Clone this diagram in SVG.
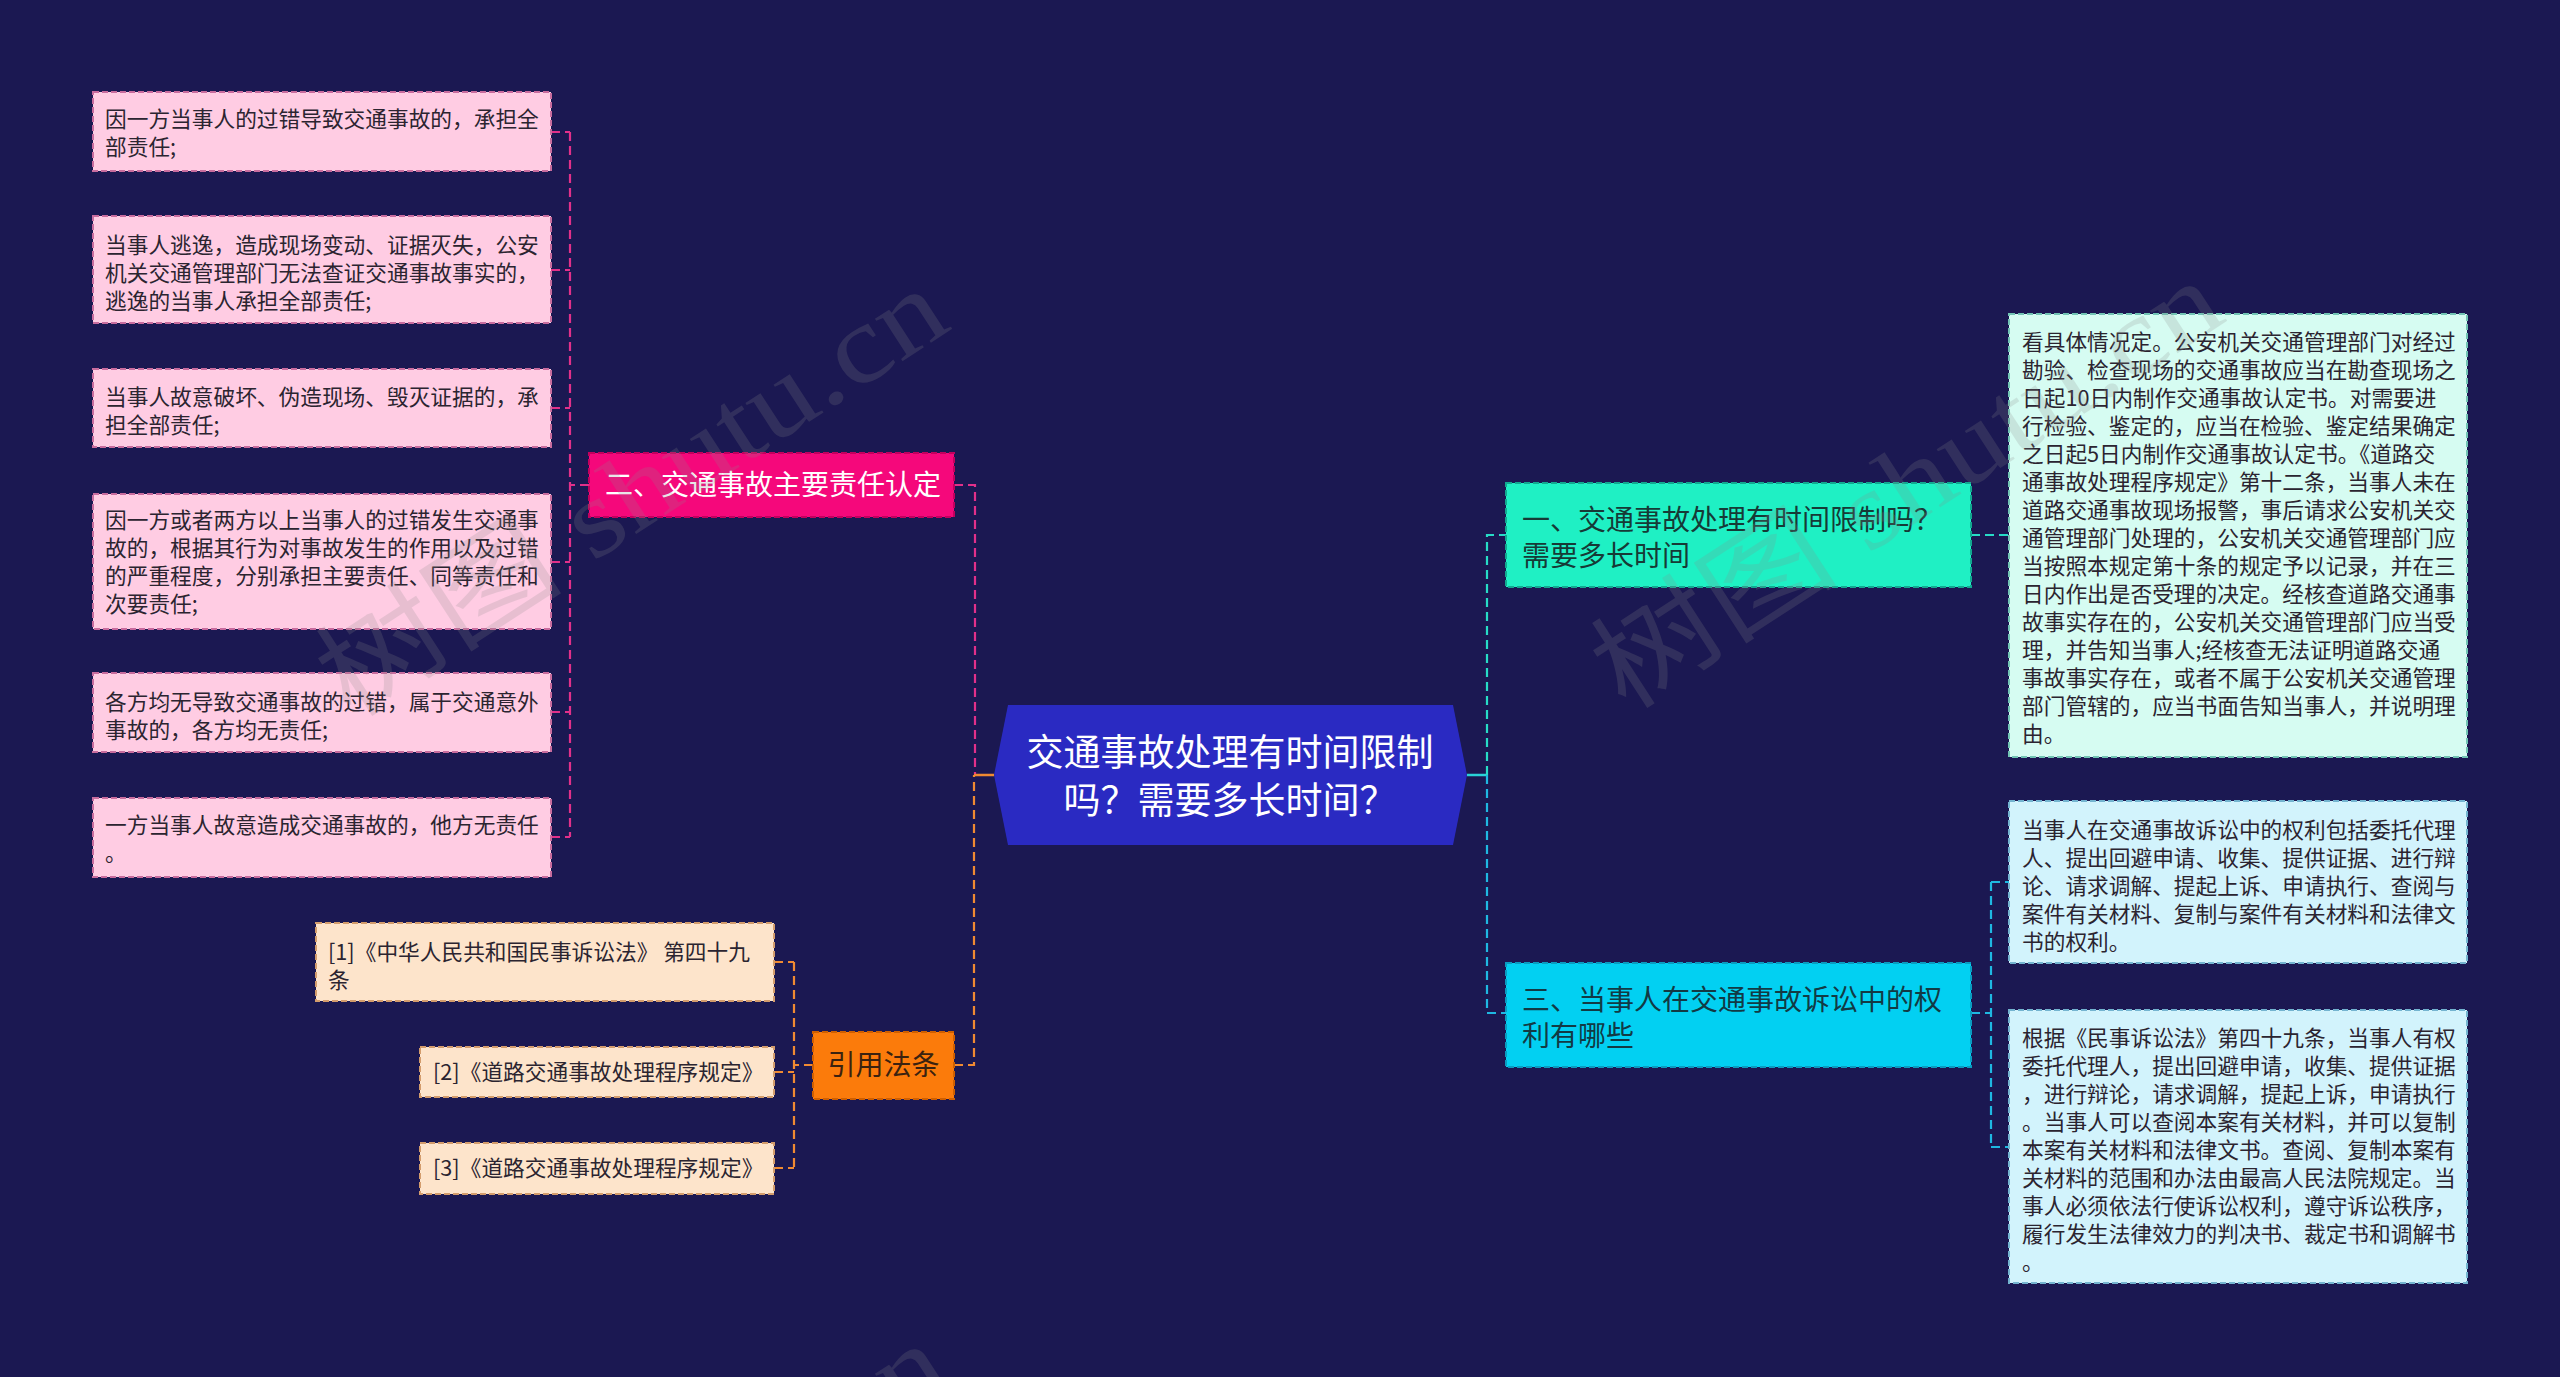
<svg xmlns="http://www.w3.org/2000/svg" width="2560" height="1377" viewBox="0 0 2560 1377">
<style>
text{font-family:"Noto Sans CJK SC","Liberation Sans",sans-serif;}
.leaf{font-size:21.7px;fill:#2b2430;}
.br{font-size:28px;}
.pinkleaf{fill:#ffcce3;stroke:#c86c9e;stroke-width:2;stroke-dasharray:6 3;}
.peach{fill:#fde4cb;stroke:#d39c6c;stroke-width:2;stroke-dasharray:6 3;}
.tealleaf{fill:#d6fcf2;stroke:#72c4b4;stroke-width:2;stroke-dasharray:6 3;}
.cyanleaf{fill:#d2f3fc;stroke:#74b4d0;stroke-width:2;stroke-dasharray:6 3;}
.c{fill:none;stroke-width:2.2;stroke-dasharray:9 5;}
.wm{font-family:"Liberation Serif","Noto Sans CJK SC",serif;font-size:110px;fill:#8a8a8a;opacity:0.2;}
</style>
<rect x="0" y="0" width="2560" height="1377" fill="#1b1852"/>

<g id="connectors">
  <path class="c" stroke="#e2308a" d="M954,485 H975 V775"/>
  <path class="c" stroke="#e2308a" d="M589,485 H570"/>
  <path class="c" stroke="#e2308a" d="M570,132 V837"/>
  <path class="c" stroke="#e2308a" d="M551,132 H570 M551,270 H570 M551,408 H570 M551,562 H570 M551,712 H570 M551,837 H570"/>
  <path class="c" stroke="#f08a32" d="M954,1065 H974 V775"/>
  <path fill="none" stroke="#f08a32" stroke-width="2.5" d="M974,775 H994"/>
  <path class="c" stroke="#f08a32" d="M813,1065 H794 M794,962 V1168 M774,962 H794 M774,1072 H794 M774,1168 H794"/>
  <path fill="none" stroke="#29d2d8" stroke-width="2.5" d="M1467,775 H1487"/>
  <path class="c" stroke="#27dcc6" d="M1487,775 V535 H1506"/>
  <path class="c" stroke="#1fb8e2" d="M1487,775 V1013 H1506"/>
  <path class="c" stroke="#27dcc6" d="M1971,535 H2009"/>
  <path class="c" stroke="#1fb8e2" d="M1971,1013 H1991 M1991,882 V1147 M1991,882 H2009 M1991,1147 H2009"/>
</g>

<g id="center">
  <polygon points="994,775 1008,705 1453,705 1467,775 1453,845 1008,845" fill="#2a2ac2"/>
  <text font-size="37" fill="#ffffff" text-anchor="middle"><tspan x="1230" y="766">交通事故处理有时间限制</tspan><tspan x="1230" y="814">吗？需要多长时间？</tspan></text>
</g>

<g id="branch2">
  <rect x="589" y="453" width="365" height="64" fill="#f5087b" stroke="#c2005e" stroke-width="2" stroke-dasharray="6 3"/>
  <text class="br" x="605" y="495" fill="#ffffff">二、交通事故主要责任认定</text>
</g>

<g id="leaf2-1">
  <rect class="pinkleaf" x="93" y="92" width="458" height="79"/>
  <text class="leaf" x="105" y="127">因一方当事人的过错导致交通事故的，承担全</text>
  <text class="leaf" x="105" y="155">部责任;</text>
</g>
<g id="leaf2-2">
  <rect class="pinkleaf" x="93" y="216" width="458" height="107"/>
  <text class="leaf" x="105" y="253">当事人逃逸，造成现场变动、证据灭失，公安</text>
  <text class="leaf" x="105" y="281">机关交通管理部门无法查证交通事故事实的，</text>
  <text class="leaf" x="105" y="309">逃逸的当事人承担全部责任;</text>
</g>
<g id="leaf2-3">
  <rect class="pinkleaf" x="93" y="369" width="458" height="78"/>
  <text class="leaf" x="105" y="405">当事人故意破坏、伪造现场、毁灭证据的，承</text>
  <text class="leaf" x="105" y="433">担全部责任;</text>
</g>
<g id="leaf2-4">
  <rect class="pinkleaf" x="93" y="494" width="458" height="135"/>
  <text class="leaf" x="105" y="528">因一方或者两方以上当事人的过错发生交通事</text>
  <text class="leaf" x="105" y="556">故的，根据其行为对事故发生的作用以及过错</text>
  <text class="leaf" x="105" y="584">的严重程度，分别承担主要责任、同等责任和</text>
  <text class="leaf" x="105" y="612">次要责任;</text>
</g>
<g id="leaf2-5">
  <rect class="pinkleaf" x="93" y="673" width="458" height="79"/>
  <text class="leaf" x="105" y="710">各方均无导致交通事故的过错，属于交通意外</text>
  <text class="leaf" x="105" y="738">事故的，各方均无责任;</text>
</g>
<g id="leaf2-6">
  <rect class="pinkleaf" x="93" y="798" width="458" height="79"/>
  <text class="leaf" x="105" y="833">一方当事人故意造成交通事故的，他方无责任</text>
  <text class="leaf" x="105" y="861">。</text>
</g>

<g id="branch-ref">
  <rect x="813" y="1032" width="141" height="67" fill="#fb7b0b" stroke="#cf5f00" stroke-width="2" stroke-dasharray="6 3"/>
  <text class="br" x="883.5" y="1075" fill="#3a2210" text-anchor="middle">引用法条</text>
</g>
<g id="ref-1">
  <rect class="peach" x="316" y="923" width="458" height="78"/>
  <text class="leaf" x="328" y="960">[1]《中华人民共和国民事诉讼法》 第四十九</text>
  <text class="leaf" x="328" y="988">条</text>
</g>
<g id="ref-2">
  <rect class="peach" x="420" y="1047" width="354" height="50"/>
  <text class="leaf" x="433" y="1080">[2]《道路交通事故处理程序规定》</text>
</g>
<g id="ref-3">
  <rect class="peach" x="420" y="1143" width="354" height="51"/>
  <text class="leaf" x="433" y="1176">[3]《道路交通事故处理程序规定》</text>
</g>

<g id="branch1">
  <rect x="1506" y="483" width="465" height="104" fill="#1ff0c4" stroke="#12a890" stroke-width="2" stroke-dasharray="6 3"/>
  <text class="br" x="1522" y="530" fill="#163a36">一、交通事故处理有时间限制吗？</text>
  <text class="br" x="1522" y="566" fill="#163a36">需要多长时间</text>
</g>
<g id="leaf1-1">
  <rect class="tealleaf" x="2009" y="314" width="458" height="443"/>
  <g class="leaf">
  <text x="2022" y="350">看具体情况定。公安机关交通管理部门对经过</text>
  <text x="2022" y="378">勘验、检查现场的交通事故应当在勘查现场之</text>
  <text x="2022" y="406">日起10日内制作交通事故认定书。对需要进</text>
  <text x="2022" y="434">行检验、鉴定的，应当在检验、鉴定结果确定</text>
  <text x="2022" y="462">之日起5日内制作交通事故认定书。《道路交</text>
  <text x="2022" y="490">通事故处理程序规定》第十二条，当事人未在</text>
  <text x="2022" y="518">道路交通事故现场报警，事后请求公安机关交</text>
  <text x="2022" y="546">通管理部门处理的，公安机关交通管理部门应</text>
  <text x="2022" y="574">当按照本规定第十条的规定予以记录，并在三</text>
  <text x="2022" y="602">日内作出是否受理的决定。经核查道路交通事</text>
  <text x="2022" y="630">故事实存在的，公安机关交通管理部门应当受</text>
  <text x="2022" y="658">理，并告知当事人;经核查无法证明道路交通</text>
  <text x="2022" y="686">事故事实存在，或者不属于公安机关交通管理</text>
  <text x="2022" y="714">部门管辖的，应当书面告知当事人，并说明理</text>
  <text x="2022" y="742">由。</text>
  </g>
</g>

<g id="branch3">
  <rect x="1506" y="963" width="465" height="104" fill="#02d0f2" stroke="#0a9cc0" stroke-width="2" stroke-dasharray="6 3"/>
  <text class="br" x="1522" y="1010" fill="#123a44">三、当事人在交通事故诉讼中的权</text>
  <text class="br" x="1522" y="1046" fill="#123a44">利有哪些</text>
</g>
<g id="leaf3-1">
  <rect class="cyanleaf" x="2009" y="801" width="458" height="162"/>
  <g class="leaf">
  <text x="2022" y="838">当事人在交通事故诉讼中的权利包括委托代理</text>
  <text x="2022" y="866">人、提出回避申请、收集、提供证据、进行辩</text>
  <text x="2022" y="894">论、请求调解、提起上诉、申请执行、查阅与</text>
  <text x="2022" y="922">案件有关材料、复制与案件有关材料和法律文</text>
  <text x="2022" y="950">书的权利。</text>
  </g>
</g>
<g id="leaf3-2">
  <rect class="cyanleaf" x="2009" y="1010" width="458" height="273"/>
  <g class="leaf">
  <text x="2022" y="1046">根据《民事诉讼法》第四十九条，当事人有权</text>
  <text x="2022" y="1074">委托代理人，提出回避申请，收集、提供证据</text>
  <text x="2022" y="1102">，进行辩论，请求调解，提起上诉，申请执行</text>
  <text x="2022" y="1130">。当事人可以查阅本案有关材料，并可以复制</text>
  <text x="2022" y="1158">本案有关材料和法律文书。查阅、复制本案有</text>
  <text x="2022" y="1186">关材料的范围和办法由最高人民法院规定。当</text>
  <text x="2022" y="1214">事人必须依法行使诉讼权利，遵守诉讼秩序，</text>
  <text x="2022" y="1242">履行发生法律效力的判决书、裁定书和调解书</text>
  <text x="2022" y="1270">。</text>
  </g>
</g>

<g id="watermarks">
  <text class="wm" x="350" y="720" transform="rotate(-33 350 720)" textLength="720" lengthAdjust="spacingAndGlyphs">树图 shutu.cn</text>
  <text class="wm" x="1625" y="712" transform="rotate(-33 1625 712)" textLength="720" lengthAdjust="spacingAndGlyphs">树图 shutu.cn</text>
  <text class="wm" x="350" y="1775" transform="rotate(-33 350 1775)" textLength="720" lengthAdjust="spacingAndGlyphs">树图 shutu.cn</text>
</g>
</svg>
